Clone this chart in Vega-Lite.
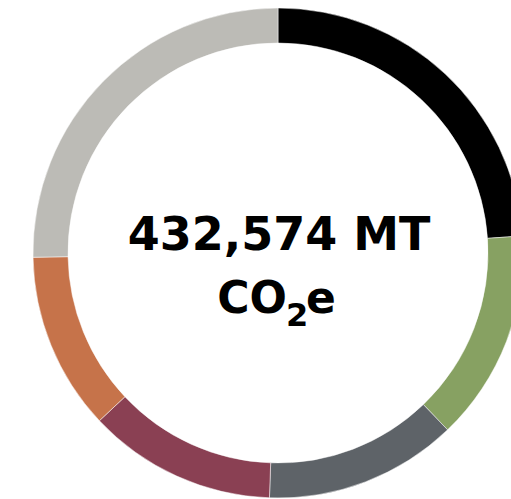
{
  "$schema": "https://vega.github.io/schema/vega-lite/v6.json",
  "width": 556,
  "height": 506,
  "padding": 0,
  "autosize": {"type": "none"},
  "background": "white",
  "view": {"stroke": null},
  "layer": [
    {
      "data": {"values": [
        {"sector": "S1", "value": 86.0, "rank": 1},
        {"sector": "S2", "value": 50.2, "rank": 2},
        {"sector": "S3", "value": 45.8, "rank": 3},
        {"sector": "S4", "value": 44.8, "rank": 4},
        {"sector": "S5", "value": 42.2, "rank": 5},
        {"sector": "S6", "value": 91.0, "rank": 6}
      ]},
      "mark": {"type": "arc", "innerRadius": 210, "outerRadius": 245, "stroke": "white", "strokeWidth": 0.5},
      "encoding": {
        "theta": {"field": "value", "type": "quantitative", "stack": true},
        "order": {"field": "rank", "type": "quantitative"},
        "color": {
          "field": "sector", "type": "nominal", "legend": null,
          "scale": {"domain": ["S1", "S2", "S3", "S4", "S5", "S6"],
                    "range": ["#000000", "#87a162", "#5e6368", "#8a4053", "#c6734a", "#bcbbb6"]}
        }
      }
    },
    {
      "data": {"values": [{"label": "432,574 MT"}]},
      "mark": {"type": "text", "font": "DejaVu Sans", "fontWeight": "bold", "fontSize": 46, "align": "center", "baseline": "alphabetic", "dx": 1, "dy": -3, "color": "#000000"},
      "encoding": {"text": {"field": "label", "type": "nominal"}}
    },
    {
      "data": {"values": [{"label": "CO"}]},
      "mark": {"type": "text", "font": "DejaVu Sans", "fontWeight": "bold", "fontSize": 44, "align": "right", "baseline": "alphabetic", "dx": 9, "dy": 60, "color": "#000000"},
      "encoding": {"text": {"field": "label", "type": "nominal"}}
    },
    {
      "data": {"values": [{"label": "2"}]},
      "mark": {"type": "text", "font": "DejaVu Sans", "fontWeight": "bold", "fontSize": 32, "align": "center", "baseline": "alphabetic", "dx": 19, "dy": 73, "color": "#000000"},
      "encoding": {"text": {"field": "label", "type": "nominal"}}
    },
    {
      "data": {"values": [{"label": "e"}]},
      "mark": {"type": "text", "font": "DejaVu Sans", "fontWeight": "bold", "fontSize": 44, "align": "left", "baseline": "alphabetic", "dx": 28, "dy": 60, "color": "#000000"},
      "encoding": {"text": {"field": "label", "type": "nominal"}}
    }
  ]
}
